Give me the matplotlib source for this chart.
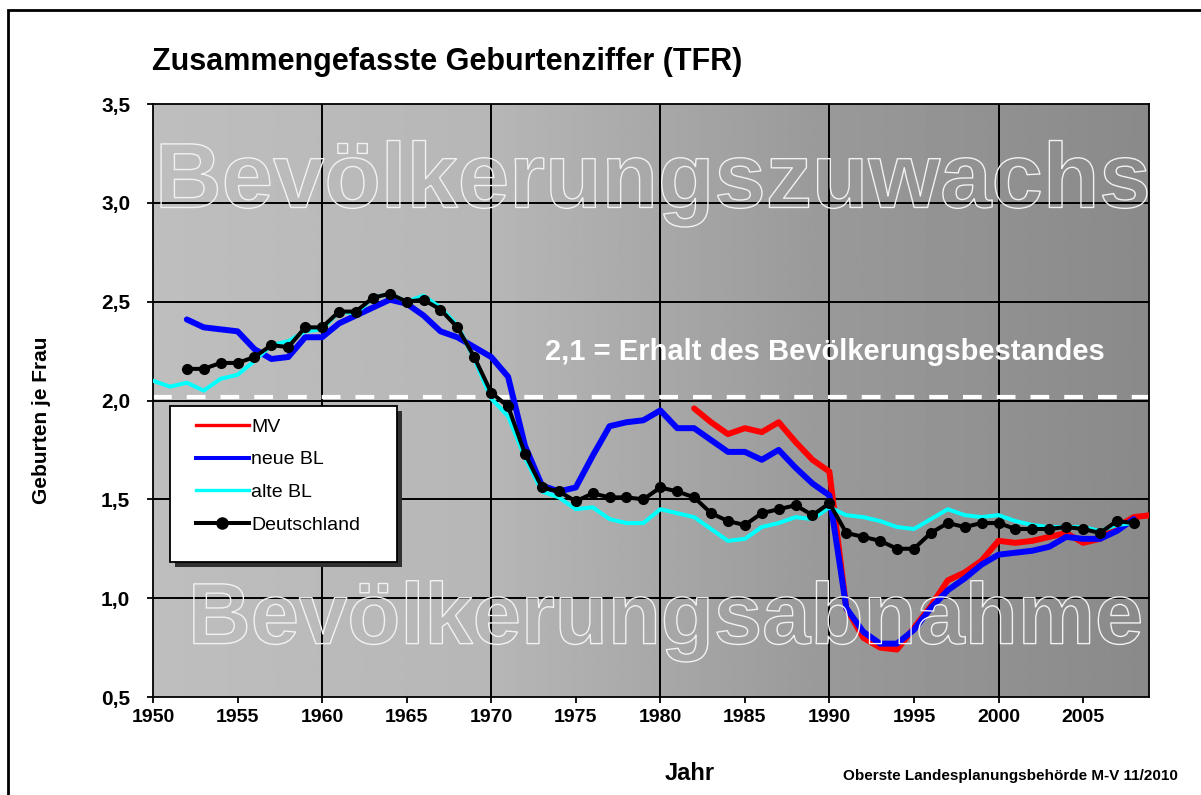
import numpy as np
import matplotlib
matplotlib.use("Agg")
import matplotlib.pyplot as plt
from matplotlib.lines import Line2D
from matplotlib.patches import Rectangle
import matplotlib.patheffects as pe

# TFR values
years_mv = list(range(1982, 2010))
tfr_mv = [1.96, 1.89, 1.83, 1.86, 1.84, 1.89, 1.79, 1.70, 1.64, 0.95,
          0.80, 0.75, 0.74, 0.85, 0.96, 1.09, 1.13, 1.19, 1.29, 1.28,
          1.29, 1.31, 1.33, 1.28, 1.30, 1.36, 1.41, 1.42]

years_neu = list(range(1952, 2009))
tfr_neu = [2.41, 2.37, 2.36, 2.35, 2.26, 2.21, 2.22, 2.32, 2.32, 2.39,
           2.43, 2.47, 2.51, 2.49, 2.43, 2.35, 2.32, 2.27, 2.22, 2.12,
           1.77, 1.57, 1.54, 1.56, 1.72, 1.87, 1.89, 1.90, 1.95, 1.86,
           1.86, 1.80, 1.74, 1.74, 1.70, 1.75, 1.66, 1.58, 1.52, 0.95,
           0.83, 0.77, 0.77, 0.84, 0.95, 1.04, 1.10, 1.17, 1.22, 1.23,
           1.24, 1.26, 1.31, 1.30, 1.30, 1.34, 1.40]

years_alt = list(range(1950, 2009))
tfr_alt = [2.10, 2.07, 2.09, 2.05, 2.11, 2.13, 2.20, 2.28, 2.30, 2.35,
           2.36, 2.45, 2.44, 2.52, 2.54, 2.50, 2.53, 2.47, 2.38, 2.21,
           2.01, 1.92, 1.71, 1.54, 1.51, 1.45, 1.46, 1.40, 1.38, 1.38,
           1.45, 1.43, 1.41, 1.35, 1.29, 1.30, 1.36, 1.38, 1.41, 1.40,
           1.46, 1.42, 1.41, 1.39, 1.36, 1.35, 1.40, 1.45, 1.42, 1.41,
           1.42, 1.39, 1.37, 1.36, 1.36, 1.36, 1.34, 1.37, 1.38]

years_de = list(range(1952, 2009))
tfr_de = [2.16, 2.16, 2.19, 2.19, 2.22, 2.28, 2.27, 2.37, 2.37, 2.45,
          2.45, 2.52, 2.54, 2.50, 2.51, 2.46, 2.37, 2.22, 2.04, 1.97,
          1.73, 1.56, 1.54, 1.49, 1.53, 1.51, 1.51, 1.50, 1.56, 1.54,
          1.51, 1.43, 1.39, 1.37, 1.43, 1.45, 1.47, 1.42, 1.48, 1.33,
          1.31, 1.29, 1.25, 1.25, 1.33, 1.38, 1.36, 1.38, 1.38, 1.35,
          1.35, 1.35, 1.36, 1.35, 1.33, 1.39, 1.38]

erhalt = 2.02
x_ticks = list(range(1950, 2006, 5))
decades = [1960, 1970, 1980, 1990, 2000]
y_ticks = [0.5, 1.0, 1.5, 2.0, 2.5, 3.0, 3.5]
y_labels = ["0,5", "1,0", "1,5", "2,0", "2,5", "3,0", "3,5"]

W, H = 1201, 795
fig = plt.figure(figsize=(W / 100, H / 100), dpi=100)


def fx(px):
    return px / W


def fy(py):
    return 1 - py / H


ax = fig.add_axes([fx(153), fy(697), fx(1149) - fx(153), fy(104) - fy(697)])
xmin, xmax = 1950, 2008.9

# grey gradient background
gx = np.linspace(0, 1, 500)
levels = np.interp(gx, [0, 0.34, 0.68, 1.0], [0.745, 0.715, 0.6, 0.54])
ax.imshow(np.tile(levels, (2, 1)), cmap="gray", vmin=0, vmax=1,
          extent=[xmin, xmax, 0.5, 3.5], aspect="auto", zorder=0,
          interpolation="bilinear")

for d in decades:
    ax.axvline(d, color="black", lw=1.4, zorder=1)
for v in y_ticks[1:-1]:
    ax.axhline(v, color="black", lw=1.4, zorder=1)

ax.axhline(erhalt, color="white", lw=3, dashes=(4.5, 3.6), zorder=2)

ax.plot(years_mv, tfr_mv, color="#ff0000", lw=4.3, solid_joinstyle="round",
        solid_capstyle="round", zorder=3)
ax.plot(years_neu, tfr_neu, color="#0000ff", lw=4.3, solid_joinstyle="round",
        solid_capstyle="round", zorder=3)
ax.plot(years_alt, tfr_alt, color="#00ffff", lw=2.9, solid_joinstyle="round",
        zorder=3)
ax.plot(years_de, tfr_de, color="black", lw=2.9, marker="o", ms=7,
        solid_joinstyle="round", zorder=4)

ax.set_xlim(xmin, xmax)
ax.set_ylim(0.5, 3.5)
ax.set_xticks(x_ticks)
ax.set_xticklabels([str(x) for x in x_ticks], family="Liberation Sans",
                   fontweight="bold", fontsize=14)
ax.set_yticks(y_ticks)
ax.set_yticklabels(y_labels, family="Liberation Sans", fontweight="bold",
                   fontsize=15)
ax.tick_params(axis="x", direction="out", length=4.3, width=1.3, pad=4)
ax.tick_params(axis="y", direction="out", length=4.3, width=1.3, pad=12)
for s in ax.spines.values():
    s.set_linewidth(1.3)
    s.set_color("black")

# outlined background words
outline = [pe.Stroke(linewidth=1.0, foreground="#f2f2f2")]
ax.text(0.502, 0.866, "Bevölkerungszuwachs", transform=ax.transAxes,
        ha="center", va="center", fontsize=66.5, fontweight="bold",
        family="Liberation Sans", color="none", path_effects=outline, zorder=6)
ax.text(0.514, 0.128, "Bevölkerungsabnahme", transform=ax.transAxes,
        ha="center", va="center", fontsize=62.5, fontweight="bold",
        family="Liberation Sans", color="none", path_effects=outline, zorder=6)

fig.text(fx(825), fy(352), "2,1 = Erhalt des Bevölkerungsbestandes",
         ha="center", va="center", fontsize=21, fontweight="bold",
         family="Liberation Sans", color="white", zorder=7)

# legend box with shadow
fig.patches.append(Rectangle((fx(175), fy(567)), fx(227), fy(0) - fy(156),
                             transform=fig.transFigure, facecolor="#303030",
                             edgecolor="none", zorder=8))
fig.patches.append(Rectangle((fx(170), fy(562)), fx(227), fy(0) - fy(156),
                             transform=fig.transFigure, facecolor="white",
                             edgecolor="black", lw=1.3, zorder=9))
handles = [
    Line2D([], [], color="#ff0000", lw=2.4),
    Line2D([], [], color="#0000ff", lw=2.9),
    Line2D([], [], color="#00ffff", lw=2.4),
    Line2D([], [], color="black", lw=2.9, marker="o", ms=8),
]
leg = fig.legend(handles, ["MV", "neue BL", "alte BL", "Deutschland"],
                 loc="upper left", bbox_to_anchor=(fx(196), fy(418)),
                 frameon=False, borderpad=0, borderaxespad=0,
                 handlelength=2.7, handletextpad=0.15, labelspacing=0.78,
                 prop={"family": "Liberation Sans", "size": 14})
leg.set_zorder(10)

fig.text(fx(152), fy(62), "Zusammengefasste Geburtenziffer (TFR)",
         ha="left", va="center", fontsize=22, fontweight="bold",
         family="Liberation Sans")
fig.text(fx(42), fy(420), "Geburten je Frau", rotation=90, ha="center",
         va="center", fontsize=15, family="Liberation Sans",
         fontweight="bold")
fig.text(fx(690), fy(773), "Jahr", ha="center", va="center", fontsize=17,
         fontweight="bold", family="Liberation Sans")
fig.text(fx(1178), fy(776), "Oberste Landesplanungsbehörde M-V 11/2010",
         ha="right", va="center", fontsize=11, fontweight="bold",
         family="Liberation Sans")

# outer frame
fig.patches.append(Rectangle((fx(8), fy(830)), 1.1, fy(10) - fy(830),
                             transform=fig.transFigure, fill=False,
                             edgecolor="black", lw=2, zorder=11))

fig.savefig("out.png", dpi=100)
